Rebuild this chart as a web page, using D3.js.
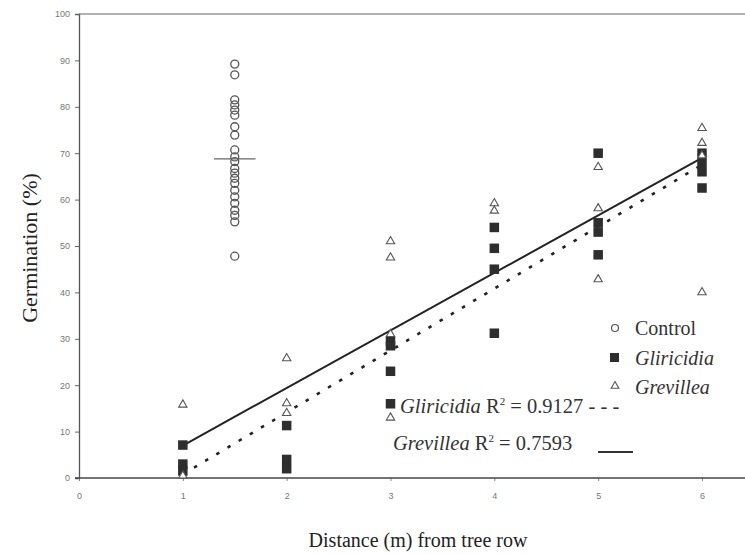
<!DOCTYPE html>
<html>
<head>
<meta charset="utf-8">
<script src="https://cdn.jsdelivr.net/npm/d3@7"></script>
<style>
  body { margin: 0; background: #fff; }
  svg { display: block; }
  .tick text { font-family: 'Liberation Sans', Arial, sans-serif; font-size: 9px; fill: #777; }
</style>
</head>
<body>
<svg id="chart" width="745" height="554"></svg>
<script>
// germination (%), one array per treatment
const controlX = 1.5
const control = [89.2, 86.9, 81.5, 80.4, 79.3, 78.2, 75.7, 73.9, 70.7, 69.2, 68.2,
  66.7, 65.7, 64.6, 63.5, 62, 60.6, 59.2, 57.7, 56.6, 55.2, 47.8]

const gliricidia = [
  [1, 7.1], [1, 3], [1, 1.5],
  [2, 11.3], [2, 4], [2, 2],
  [3, 29.5], [3, 28.5], [3, 23], [3, 16],
  [4, 54], [4, 49.5], [4, 45], [4, 31.2],
  [5, 70], [5, 55], [5, 53], [5, 48.1],
  [6, 70], [6, 68], [6, 66], [6, 62.5],
]

const grevillea = [
  [1, 15.8], [1, 0.5],
  [2, 25.8], [2, 16.1], [2, 14],
  [3, 51], [3, 47.5], [3, 31], [3, 13],
  [4, 59.2], [4, 57.6],
  [5, 67], [5, 58.1], [5, 42.8],
  [6, 75.4], [6, 72.2], [6, 69.5], [6, 40],
]

// fitted lines (end points)
const gliricidiaFit = [[1, 0.8], [6, 67.5]]
const grevilleaFit = [[1, 7], [6, 69]]

const xTicks = [0, 1, 2, 3, 4, 5, 6]
const yTicks = [0, 10, 20, 30, 40, 50, 60, 70, 80, 90, 100]

const serif = "'Liberation Serif', 'Times New Roman', 'DejaVu Serif', serif"

const svg = d3.select('#chart')
const x = d3.scaleLinear().domain([0, 6]).range([79, 702])
const y = d3.scaleLinear().domain([0, 100]).range([478, 14])

// axes
const yAxis = d3.axisLeft(y).tickValues(yTicks).tickSize(4).tickPadding(5)
svg.append('g').attr('transform', `translate(${x(0)},0)`).call(yAxis)
  .call(g => g.select('.domain').attr('stroke', '#555').attr('stroke-width', 1.3))
  .call(g => g.selectAll('.tick line').attr('stroke', '#666'))

const xAxis = d3.axisBottom(x).tickValues(xTicks).tickFormat(d3.format('d'))
  .tickSize(3).tickPadding(12)
svg.append('g').attr('transform', `translate(0,${y(0)})`).call(xAxis)
  .call(g => g.select('.domain').remove())
  .call(g => g.selectAll('.tick line').attr('stroke', '#888'))

// bottom and top lines run to the edge
svg.append('line').attr('x1', x(0) - 4).attr('x2', 745).attr('y1', y(0)).attr('y2', y(0))
  .attr('stroke', '#444').attr('stroke-width', 1.6)
svg.append('line').attr('x1', x(0)).attr('x2', 745).attr('y1', y(100)).attr('y2', y(100))
  .attr('stroke', '#666').attr('stroke-width', 1.2)

// axis titles
svg.append('text')
  .attr('transform', `translate(37,${(y(0) + y(100)) / 2 + 2}) rotate(-90)`)
  .attr('text-anchor', 'middle')
  .style('font-family', serif).style('font-size', '22px').style('fill', '#222')
  .text('Germination (%)')

svg.append('text')
  .attr('x', 418).attr('y', 547)
  .attr('text-anchor', 'middle')
  .style('font-family', serif).style('font-size', '20px').style('fill', '#222')
  .text('Distance (m) from tree row')

// regression lines
const line = d3.line().x(d => x(d[0])).y(d => y(d[1]))
svg.append('path').attr('d', line(grevilleaFit))
  .attr('fill', 'none').attr('stroke', '#222').attr('stroke-width', 2)
svg.append('path').attr('d', line(gliricidiaFit))
  .attr('fill', 'none').attr('stroke', '#222').attr('stroke-width', 2.6)
  .attr('stroke-dasharray', '3.5,9.5')

// control
svg.selectAll('circle.ctrl').data(control).enter().append('circle')
  .attr('class', 'ctrl')
  .attr('cx', x(controlX)).attr('cy', d => y(d)).attr('r', 4)
  .attr('fill', 'none').attr('stroke', '#555').attr('stroke-width', 1.3)

const mean = d3.mean(control)
svg.append('line')
  .attr('x1', x(controlX - 0.2)).attr('x2', x(controlX + 0.2))
  .attr('y1', y(mean)).attr('y2', y(mean))
  .attr('stroke', '#666').attr('stroke-width', 1.2)

// gliricidia squares
const sq = 9.5
svg.selectAll('rect.glir').data(gliricidia).enter().append('rect')
  .attr('class', 'glir')
  .attr('x', d => x(d[0]) - sq / 2).attr('y', d => y(d[1]) - sq / 2)
  .attr('width', sq).attr('height', sq)
  .attr('fill', '#2e2e2e')

// grevillea triangles
const tri = d3.symbol().type(d3.symbolTriangle).size(30)
svg.selectAll('path.grev').data(grevillea).enter().append('path')
  .attr('class', 'grev')
  .attr('transform', d => `translate(${x(d[0])},${y(d[1])})`)
  .attr('d', tri)
  .attr('fill', '#fff').attr('stroke', '#555').attr('stroke-width', 1.1)

// legend
const lg = svg.append('g')
lg.append('circle').attr('cx', 615).attr('cy', 328).attr('r', 3.5)
  .attr('fill', 'none').attr('stroke', '#555').attr('stroke-width', 1.2)
lg.append('rect').attr('x', 610).attr('y', 353).attr('width', 9).attr('height', 9).attr('fill', '#2e2e2e')
lg.append('path').attr('transform', 'translate(615,386)').attr('d', d3.symbol().type(d3.symbolTriangle).size(26))
  .attr('fill', '#fff').attr('stroke', '#555').attr('stroke-width', 1.1)

const legendText = [['Control', 335, 'normal'], ['Gliricidia', 365, 'italic'], ['Grevillea', 394, 'italic']]
lg.selectAll('text.lg').data(legendText).enter().append('text')
  .attr('class', 'lg')
  .attr('x', 635).attr('y', d => d[1])
  .style('font-family', serif).style('font-size', '20px').style('font-style', d => d[2])
  .style('fill', '#333')
  .text(d => d[0])

const r1 = svg.append('text').attr('x', 400).attr('y', 413)
  .style('font-family', serif).style('font-size', '20.5px').style('fill', '#333')
r1.append('tspan').style('font-style', 'italic').text('Gliricidia')
r1.append('tspan').text(' R')
r1.append('tspan').attr('dy', -8).style('font-size', '11px').text('2')
r1.append('tspan').attr('dy', 8).text(' = 0.9127 - - -')

const r2 = svg.append('text').attr('x', 393).attr('y', 450)
  .style('font-family', serif).style('font-size', '20.5px').style('fill', '#333')
r2.append('tspan').style('font-style', 'italic').text('Grevillea')
r2.append('tspan').text(' R')
r2.append('tspan').attr('dy', -8).style('font-size', '11px').text('2')
r2.append('tspan').attr('dy', 8).text(' = 0.7593')
svg.append('line').attr('x1', 598).attr('x2', 633).attr('y1', 452).attr('y2', 452)
  .attr('stroke', '#333').attr('stroke-width', 1.8)
</script>
</body>
</html>
